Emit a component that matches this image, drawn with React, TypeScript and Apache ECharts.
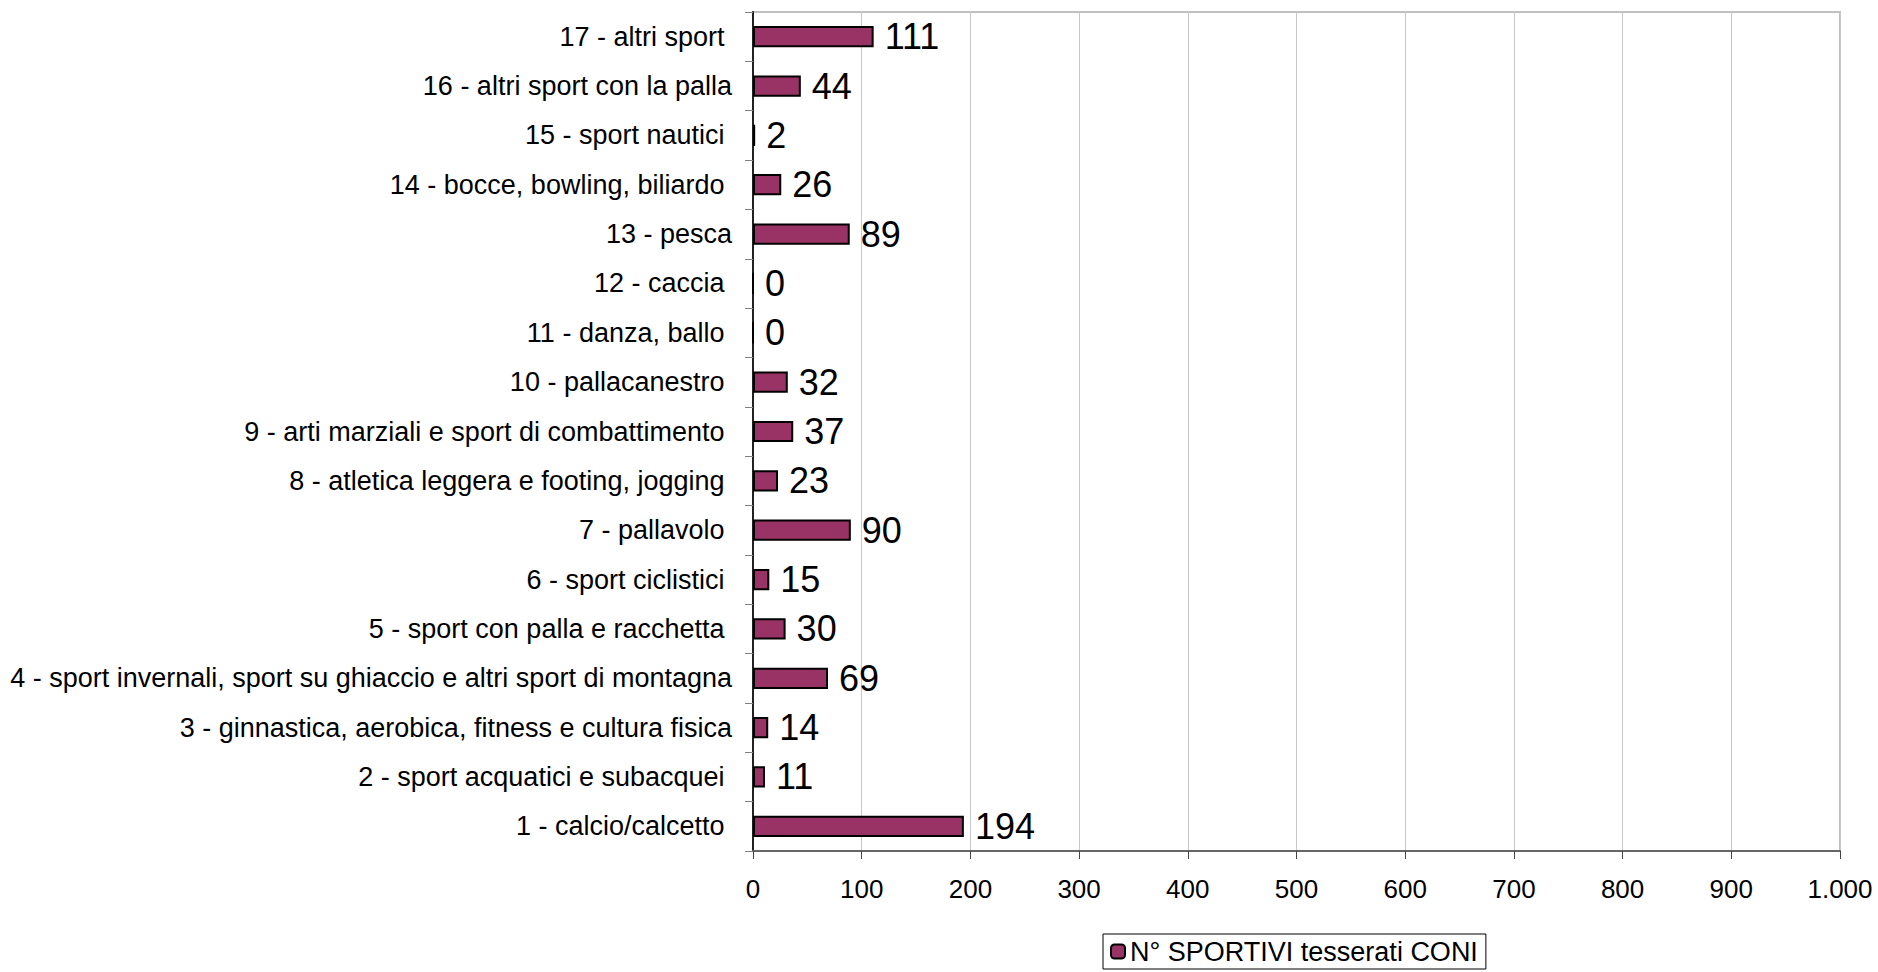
import React, { useEffect, useRef } from "react";
import * as echarts from "echarts";

const categories = [
  "1 - calcio/calcetto ",
  "2 - sport acquatici e subacquei ",
  "3 - ginnastica, aerobica, fitness e cultura fisica",
  "4 - sport invernali, sport su ghiaccio e altri sport di montagna",
  "5 - sport con palla e racchetta ",
  "6 - sport ciclistici ",
  "7 - pallavolo ",
  "8 - atletica leggera e footing, jogging ",
  "9 - arti marziali e sport di combattimento ",
  "10 - pallacanestro ",
  "11 - danza, ballo ",
  "12 - caccia ",
  "13 - pesca",
  "14 - bocce, bowling, biliardo ",
  "15 - sport nautici ",
  "16 - altri sport con la palla",
  "17 - altri sport ",
];

const values = [194, 11, 14, 69, 30, 15, 90, 23, 37, 32, 0, 0, 89, 26, 2, 44, 111];

const seriesName = "N° SPORTIVI tesserati CONI";

const FONT = "'Liberation Sans', Arial, sans-serif";

export default function App() {
  const ref = useRef<HTMLDivElement>(null);

  useEffect(() => {
    if (!ref.current) return;
    const chart = echarts.init(ref.current, undefined, { renderer: "svg" });
    chart.setOption({
      animation: false,
      backgroundColor: "#ffffff",
      textStyle: { fontFamily: FONT },
      grid: {
        left: 753,
        top: 12,
        right: 38,
        bottom: 121,
        show: true,
        borderColor: "#c0c0c0",
        borderWidth: 2,
      },
      legend: {
        data: [seriesName],
        left: 1103,
        top: 934,
        orient: "horizontal",
        itemWidth: 14,
        itemHeight: 14,
        itemGap: 5,
        padding: [4, 8, 4, 7],
        borderColor: "#000",
        borderWidth: 1,
        textStyle: { fontSize: 27, color: "#000", fontFamily: FONT },
      },
      xAxis: {
        type: "value",
        min: 0,
        max: 1000,
        interval: 100,
        axisLine: { show: true, lineStyle: { color: "#666", width: 2 } },
        axisTick: { show: true, length: 8, lineStyle: { color: "#444", width: 1 } },
        splitLine: { show: true, lineStyle: { color: "#c8c8c8", width: 1 } },
        axisLabel: {
          fontSize: 26,
          color: "#000",
          margin: 25,
          fontFamily: FONT,
          formatter: (v: number) => v.toLocaleString("it-IT"),
        },
      },
      yAxis: {
        type: "category",
        data: categories,
        axisLine: { show: true, lineStyle: { color: "#222", width: 2 } },
        axisTick: { show: true, length: 8, lineStyle: { color: "#808080", width: 1 } },
        axisLabel: {
          fontSize: 27,
          color: "#000",
          margin: 21,
          fontFamily: FONT,
        },
      },
      series: [
        {
          name: seriesName,
          type: "bar",
          data: values,
          barCategoryGap: "57%",
          itemStyle: { color: "#993366", borderColor: "#000", borderWidth: 2 },
          label: {
            show: true,
            position: "right",
            distance: 11,
            fontSize: 36,
            color: "#000",
            fontFamily: FONT,
          },
        },
      ],
    });
    return () => chart.dispose();
  }, []);

  return (
    <div
      ref={ref}
      style={{ position: "fixed", left: 0, top: 0, width: 1878, height: 972 }}
    />
  );
}
